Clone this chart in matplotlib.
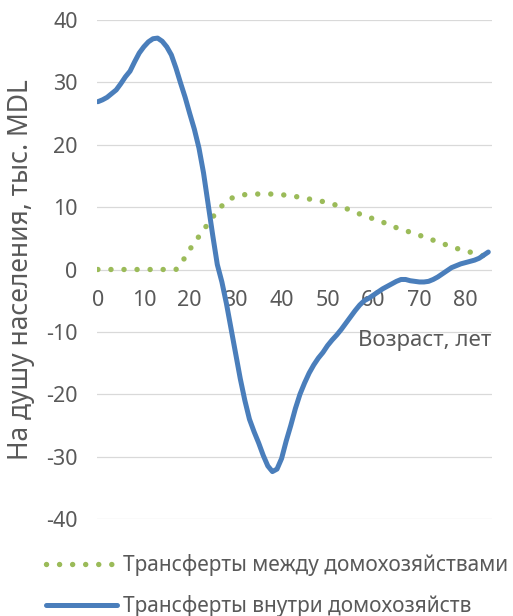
import matplotlib.pyplot as plt
import numpy as np

plt.rcParams['font.family'] = ['Noto Sans', 'DejaVu Sans']
plt.rcParams['axes.unicode_minus'] = False

ages = np.arange(0, 86)

between_hh = [
    0, 0, 0, 0, 0, 0, 0, 0, 0, 0,
    0, 0, 0, 0, 0, 0, 0, 0, 0.8, 2.0,
    3.2, 4.3, 5.3, 6.3, 7.4, 8.4, 9.3, 10.2, 10.9, 11.4,
    11.7, 11.9, 12.0, 12.1, 12.1, 12.1, 12.1, 12.1, 12.1, 12.0,
    12.0, 11.9, 11.8, 11.7, 11.6, 11.5, 11.3, 11.2, 11.0, 10.9,
    10.7, 10.5, 10.3, 10.1, 9.8, 9.5, 9.2, 8.9, 8.7, 8.4,
    8.1, 7.9, 7.6, 7.3, 7.0, 6.7, 6.4, 6.2, 6.0, 5.8,
    5.5, 5.2, 5.0, 4.7, 4.5, 4.2, 3.9, 3.6, 3.4, 3.2,
    3.0, 2.8, 2.6, 2.4, 2.2, 2.0,
]

within_hh = [
    26.9, 27.2, 27.6, 28.2, 28.8, 29.8, 30.9, 31.8, 33.3, 34.7,
    35.7, 36.5, 37.0, 37.1, 36.6, 35.7, 34.4, 32.3, 29.9, 27.6,
    25.0, 22.5, 19.5, 15.5, 10.5, 5.5, 0.8, -2.0, -5.5, -9.5,
    -13.5, -17.5, -21.0, -24.0, -26.0, -27.8, -29.8, -31.5, -32.4, -32.0,
    -30.3, -27.5, -25.0, -22.3, -20.0, -18.2, -16.6, -15.3, -14.2, -13.3,
    -12.2, -11.3, -10.5, -9.6, -8.6, -7.6, -6.6, -5.7, -5.0, -4.6,
    -4.1, -3.6, -3.1, -2.7, -2.3, -1.9, -1.6, -1.6, -1.8, -1.9,
    -2.0, -2.0, -1.9, -1.6, -1.2, -0.7, -0.2, 0.3, 0.6, 0.9,
    1.1, 1.3, 1.5, 1.8, 2.3, 2.8,
]

labels = ["Трансферты между домохозяйствами", "Трансферты внутри домохозяйств"]
x_ticks = list(range(0, 90, 10))
y_ticks = list(range(-40, 50, 10))

green = "#9bbb59"
blue = "#4a7ebb"
text_col = "#595959"

fig = plt.figure(figsize=(5.13, 6.16), dpi=100)
ax = fig.add_axes([0.189, 0.1575, 0.770, 0.81])

ax.plot(ages, between_hh, color=green, linewidth=3.9,
        linestyle=(0, (0.01, 2.4)), dash_capstyle="round", label=labels[0])
ax.plot(ages, within_hh, color=blue, linewidth=3.6,
        solid_capstyle="round", solid_joinstyle="round", label=labels[1])

ax.set_xlim(-0.2, 85.8)
ax.set_ylim(-40, 40)
ax.set_xticks(x_ticks)
ax.set_yticks(y_ticks)

for side in ["top", "right", "left"]:
    ax.spines[side].set_visible(False)
ax.spines["bottom"].set_position(("data", 0))
ax.spines["bottom"].set_visible(False)

ax.grid(True, axis="y", color="#d9d9d9", linewidth=0.9)
ax.set_axisbelow(True)
ax.tick_params(axis="both", length=0, labelsize=15.5, colors=text_col)
ax.tick_params(axis="y", pad=14)
ax.tick_params(axis="x", pad=15)

ax.set_ylabel("На душу населения, тыс. MDL", fontsize=19, color=text_col,
              labelpad=8)
ax.text(0.83, 0.358, "Возраст, лет", transform=ax.transAxes, fontsize=16,
        color=text_col, ha="center", va="center")

fig.legend(loc="upper left", bbox_to_anchor=(0.09, 0.1), frameon=False,
           fontsize=15, handlelength=3.4, handletextpad=0.3,
           labelspacing=0.9, borderpad=0, borderaxespad=0,
           labelcolor=text_col)

fig.savefig("out.png", dpi=100)
